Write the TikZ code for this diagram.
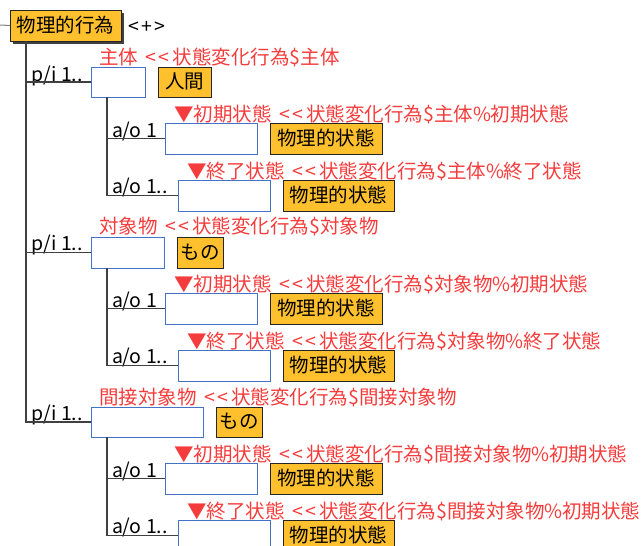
\documentclass[tikz,border=0pt]{standalone}
\usepackage{fontspec}
\setmainfont{Noto Sans CJK JP}[Ligatures=TeXOff]
\usetikzlibrary{shadows}
\definecolor{boxorange}{HTML}{FFC02E}
\definecolor{labred}{HTML}{F53C3C}
\definecolor{boxblue}{HTML}{4472C4}
\definecolor{treeline}{HTML}{404040}
\newcommand\dlt{\hspace{0.4em}<\hspace{0.12em}<\hspace{0.15em}}
\tikzset{
  every node/.style={inner sep=0pt, outer sep=0pt, font=\fontsize{19.5}{21}\selectfont},
  obox/.style={draw=black!85, line width=1pt, fill=boxorange, anchor=north west,
    text height=16.5pt, text depth=3pt, minimum height=31pt},
  rootbox/.style={obox, drop shadow={shadow xshift=3pt, shadow yshift=-3pt, fill=black!75, opacity=1}},
  bbox/.style={draw=boxblue, line width=1pt, fill=white, anchor=north west, minimum height=31pt},
  redlab/.style={text=labred, anchor=west, text height=16.5pt, text depth=3pt},
  blklab/.style={text=black, anchor=base west},
  tree/.style={draw=treeline, line width=1.3pt},
}
\begin{document}
\begin{tikzpicture}[x=1pt,y=-1pt]
\useasboundingbox (0,0) rectangle (643,546);
% root
\coordinate (lft) at (0,25);
\node[rootbox, minimum width=111pt] (root) at (10,10) {物理的行為};
\node[anchor=west, text height=16.5pt, text depth=3pt] (plus) at (128,27) {<\kern2.5pt+\kern2.5pt>};
\draw[draw=gray, line width=1pt] (lft) -- (root.west);
% section 1
\node[bbox, minimum width=54pt, minimum height=30pt] (pi1) at (91,67) {};
\node[obox, minimum width=53pt, minimum height=30pt] (hum1) at (158,67) {人間};
\node[redlab] (r1) at (99,58) {主体\dlt 状態変化行為\$主体};
\node[blklab] (l1) at (31,81) {p/i 1..};
\node[bbox, minimum width=92pt] (ao11) at (165,123) {};
\node[obox, minimum width=112pt] (ps11) at (270,123) {物理的状態};
\node[redlab] (r11) at (174,115) {▼初期状態\dlt 状態変化行為\$主体\%初期状態};
\node[blklab] (l11) at (112,137) {a/o 1};
\node[bbox, minimum width=92pt] (ao12) at (178,180) {};
\node[obox, minimum width=111pt] (ps12) at (283,180) {物理的状態};
\node[redlab] (r12) at (187,172) {▼終了状態\dlt 状態変化行為\$主体\%終了状態};
\node[blklab] (l12) at (112,193) {a/o 1..};
% section 2
\node[bbox, minimum width=73pt] (pi2) at (91,237) {};
\node[obox, minimum width=46pt] (mono2) at (177,237) {もの};
\node[redlab] (r2) at (99,227) {対象物\dlt 状態変化行為\$対象物};
\node[blklab] (l2) at (31,250) {p/i 1..};
\node[bbox, minimum width=92pt] (ao21) at (165,293) {};
\node[obox, minimum width=112pt] (ps21) at (270,293) {物理的状態};
\node[redlab] (r21) at (174,285) {▼初期状態\dlt 状態変化行為\$対象物\%初期状態};
\node[blklab] (l21) at (112,307) {a/o 1};
\node[bbox, minimum width=92pt] (ao22) at (178,350) {};
\node[obox, minimum width=111pt] (ps22) at (283,350) {物理的状態};
\node[redlab] (r22) at (187,342) {▼終了状態\dlt 状態変化行為\$対象物\%終了状態};
\node[blklab] (l22) at (112,363) {a/o 1..};
% section 3
\node[bbox, minimum width=112pt, minimum height=30pt] (pi3) at (91,407) {};
\node[obox, minimum width=46pt, minimum height=30pt] (mono3) at (216,407) {もの};
\node[redlab] (r3) at (99,398) {間接対象物\dlt 状態変化行為\$間接対象物};
\node[blklab] (l3) at (31,420) {p/i 1..};
\node[bbox, minimum width=92pt] (ao31) at (165,463) {};
\node[obox, minimum width=112pt] (ps31) at (270,463) {物理的状態};
\node[redlab] (r31) at (174,455) {▼初期状態\dlt 状態変化行為\$間接対象物\%初期状態};
\node[blklab] (l31) at (112,477) {a/o 1};
\node[bbox, minimum width=92pt] (ao32) at (178,520) {};
\node[obox, minimum width=111pt] (ps32) at (283,520) {物理的状態};
\node[redlab] (r32) at (187,512) {▼終了状態\dlt 状態変化行為\$間接対象物\%初期状態};
\node[blklab] (l32) at (112,533) {a/o 1..};
% tree connectors
\coordinate (trunk) at (26,41);
\draw[tree] (trunk) |- (pi3.west);
\draw[tree] (trunk |- pi1.west) -- (pi1.west);
\draw[tree] (trunk |- pi2.west) -- (pi2.west);
\coordinate (s1) at (107,97);
\coordinate (s2) at (107,268);
\coordinate (s3) at (107,437);
\draw[tree] (s1) |- (ao12.west);
\draw[tree] (s1 |- ao11.west) -- (ao11.west);
\draw[tree] (s2) |- (ao22.west);
\draw[tree] (s2 |- ao21.west) -- (ao21.west);
\draw[tree] (s3) |- (ao32.west);
\draw[tree] (s3 |- ao31.west) -- (ao31.west);
\end{tikzpicture}
\end{document}
